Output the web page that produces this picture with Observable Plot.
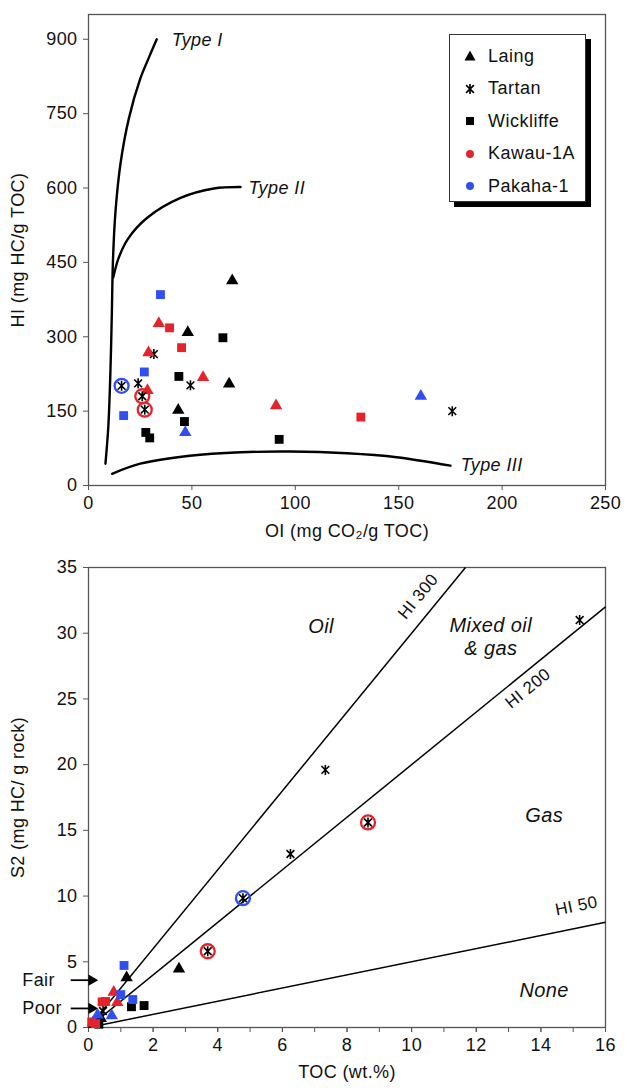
<!DOCTYPE html>
<html>
<head>
<meta charset="utf-8">
<script src="https://cdn.jsdelivr.net/npm/d3@7"></script>
<script src="https://cdn.jsdelivr.net/npm/@observablehq/plot@0.6"></script>
<style>
  body { margin: 0; background: #fff; font-family: 'Liberation Sans', Arial, sans-serif; }
  #wrap { width: 634px; }
  #top { position: relative; height: 550px; }
  #bot { position: relative; height: 538px; }
  svg text { letter-spacing: 0.4px; }
  #legend { position: absolute; left: 449px; top: 34px; width: 137px; height: 168px;
    border: 1px solid #333; background: #fff; box-shadow: 5px 5px 0 #000; box-sizing: border-box; }
  .lg { position: absolute; left: 12px; height: 22px; display: flex; align-items: center; font-size: 18px; color: #111; letter-spacing: 0.5px; }
  .lg svg { width: 16px; height: 16px; margin-right: 10px; }
</style>
</head>
<body>
<div id="wrap">
  <div id="top"></div>
  <div id="bot"></div>
</div>
<script>
// ---------- Data: pyrolysis (top) ----------
const wells = ["Outcrop", "Kawau-1A", "Pakaha-1"];
const formations = ["Laing", "Tartan", "Wickliffe"];
const legendLabels = ["Laing", "Tartan", "Wickliffe", "Kawau-1A", "Pakaha-1"];

const topOI   = [69.5, 48, 68, 43.4,  31.6, 49.3, 24, 175.9,  65, 43.7, 46.4, 27.7, 29.6, 92.2,
                 34, 29, 55.4, 90.7, 28.5,  39.2, 45, 131.7,  26, 27.2,
                 34.8, 27, 17,  46.8, 160.7,  16];
const topHI   = [413, 309, 205, 152,  265, 202, 206, 150,  298, 220, 129, 107, 96, 93,
                 327, 268, 218, 161, 192,  318, 278, 138,  180, 153,
                 385, 229, 141,  107, 180,  201];
const topFm   = ["Laing","Laing","Laing","Laing", "Tartan","Tartan","Tartan","Tartan",
                 "Wickliffe","Wickliffe","Wickliffe","Wickliffe","Wickliffe","Wickliffe",
                 "Laing","Laing","Laing","Laing","Laing", "Wickliffe","Wickliffe","Wickliffe", "Tartan","Tartan",
                 "Wickliffe","Wickliffe","Wickliffe", "Laing","Laing", "Tartan"];
const topWell = ["Outcrop","Outcrop","Outcrop","Outcrop","Outcrop","Outcrop","Outcrop","Outcrop",
                 "Outcrop","Outcrop","Outcrop","Outcrop","Outcrop","Outcrop",
                 "Kawau-1A","Kawau-1A","Kawau-1A","Kawau-1A","Kawau-1A","Kawau-1A","Kawau-1A","Kawau-1A","Kawau-1A","Kawau-1A",
                 "Pakaha-1","Pakaha-1","Pakaha-1","Pakaha-1","Pakaha-1","Pakaha-1"];

// Kerogen type curves (OI, HI)
const type1OI = [8.2, 9.6, 10.6, 11.3, 11.8, 13, 15.5, 19.5, 25, 29.5, 33];
const type1HI = [44, 120, 230, 350, 450, 550, 650, 740, 820, 866, 900];
const type2OI = [12, 14.5, 19, 28.4, 44.5, 60.6, 73.5];
const type2HI = [420, 458, 497, 540, 580, 599, 602];
const type3OI = [11.4, 25, 49, 73.5, 97.7, 125, 149, 175];
const type3HI = [23.5, 44, 60, 67, 68.5, 65, 57, 40];
const typeLabels = ["Type I", "Type II", "Type III"];
const typeLabelOI = [40.2, 77.4, 180];
const typeLabelHI = [898, 600, 40];

const oiTicks = [0, 50, 100, 150, 200, 250];
const hiTicks = [0, 150, 300, 450, 600, 750, 900];

// ---------- Data: S2 vs TOC (bottom) ----------
const botTOC  = [15.2, 7.33, 6.25, 0.45,  8.65, 3.69,  4.78,
                 2.8, 1.18, 0.38,  1.33, 1.72, 0.32,
                 1.1, 1.37, 1.0,  0.78, 0.89, 0.13,  0.53, 0.42, 0.1, 0.22,  0.28, 0.72];
const botS2   = [31.0, 19.6, 13.2, 1.25,  15.6, 5.8,  9.84,
                 4.46, 3.8, 0.7,  1.58, 1.67, 0.25,
                 4.72, 2.13, 2.5,  2.69, 1.9, 0.35,  1.98, 1.95, 0.42, 0.3,  0.95, 0.9];
const botFm   = ["Tartan","Tartan","Tartan","Tartan", "Tartan","Tartan", "Tartan",
                 "Laing","Laing","Laing", "Wickliffe","Wickliffe","Wickliffe",
                 "Wickliffe","Wickliffe","Wickliffe", "Laing","Laing","Laing",
                 "Wickliffe","Wickliffe","Wickliffe","Wickliffe", "Laing","Laing"];
const botWell = ["Outcrop","Outcrop","Outcrop","Outcrop", "Kawau-1A","Kawau-1A", "Pakaha-1",
                 "Outcrop","Outcrop","Outcrop", "Outcrop","Outcrop","Outcrop",
                 "Pakaha-1","Pakaha-1","Pakaha-1", "Kawau-1A","Kawau-1A","Kawau-1A",
                 "Kawau-1A","Kawau-1A","Kawau-1A","Kawau-1A", "Pakaha-1","Pakaha-1"];

const hiLines = [300, 200, 50];
const hiLineLabels = ["HI 300", "HI 200", "HI 50"];
const hiLabelTOC = [10.2, 13.6, 15.1];
const hiLabelS2  = [32.8, 25.8, 9.25];
const zoneLabels = ["Oil", "Mixed oil", "& gas", "Gas", "None"];
const zoneTOC = [7.2, 12.45, 12.45, 14.1, 14.1];
const zoneS2  = [30.5, 30.6, 28.8, 16.1, 2.8];
const gradeLabels = ["Fair", "Poor"];
const gradeS2 = [3.6, 1.45];

const tocTicks = [0, 2, 4, 6, 8, 10, 12, 14, 16];
const tocMinorTicks = [0,1,2,3,4,5,6,7,8,9,10,11,12,13,14,15,16];
const s2Ticks = [0, 5, 10, 15, 20, 25, 30, 35];

// ---------- Styling ----------
const FONT = "'Liberation Sans', Arial, sans-serif";
const wellColor = {"Outcrop": "#000000", "Kawau-1A": "#e4232b", "Pakaha-1": "#2f4ff0"};

// "Ж"-like asterisk: vertical bar with an X
const starSymbol = {
  draw(context, size) {
    const r = Math.sqrt(size / Math.PI);
    const a = r * 0.78;
    context.moveTo(0, -r); context.lineTo(0, r);
    context.moveTo(-a, -a); context.lineTo(a, a);
    context.moveTo(-a, a); context.lineTo(a, -a);
  }
};

function rowsOf(xs, ys, fms, ws) {
  return xs.map((x, i) => ({x, y: ys[i], fm: fms[i], well: ws[i]}));
}

function sampleMarks(rows) {
  const marks = [];
  for (const w of wells) {
    const c = wellColor[w];
    const tri = rows.filter(d => d.well === w && d.fm === "Laing");
    const sq = rows.filter(d => d.well === w && d.fm === "Wickliffe");
    const st = rows.filter(d => d.well === w && d.fm === "Tartan");
    marks.push(Plot.dot(sq, {x: "x", y: "y", symbol: "square", r: 5, fill: c}));
    marks.push(Plot.dot(tri, {x: "x", y: "y", symbol: "triangle", r: 4.6, fill: c}));
    if (w !== "Outcrop") {
      marks.push(Plot.dot(st, {x: "x", y: "y", symbol: "circle", r: 7, fill: "none", stroke: c, strokeWidth: 2.3}));
    }
    marks.push(Plot.dot(st, {x: "x", y: "y", symbol: starSymbol, r: 5, fill: "none", stroke: "#000", strokeWidth: 1.6}));
  }
  return marks;
}

// ---------- Top chart ----------
const topRows = rowsOf(topOI, topHI, topFm, topWell);
const curve = (xs, ys) => xs.map((x, i) => ({x, y: ys[i]}));
const topPlot = Plot.plot({
  width: 634, height: 550,
  marginLeft: 88, marginRight: 29, marginTop: 14, marginBottom: 65,
  style: {fontFamily: FONT, fontSize: "18px", color: "#111", background: "#fff"},
  x: {domain: [0, 250], axis: null},
  y: {domain: [0, 950], axis: null},
  marks: [
    Plot.frame({stroke: "#555", strokeWidth: 1.3}),
    Plot.axisX({ticks: oiTicks, tickSize: 5, tickPadding: 6, label: null, fontSize: 18, stroke: "#555"}),
    Plot.axisY({ticks: hiTicks, tickSize: 5, tickPadding: 6, label: null, fontSize: 18, stroke: "#555"}),
    Plot.text(["OI (mg CO\u2082/g TOC)"], {frameAnchor: "bottom", dy: 51, fontSize: 18, fill: "#111"}),
    Plot.text(["HI (mg HC/g TOC)"], {frameAnchor: "left", textAnchor: "middle", dx: -70, rotate: -90, fontSize: 18, fill: "#111"}),
    Plot.line(curve(type1OI, type1HI), {x: "x", y: "y", curve: "catmull-rom", stroke: "#000", strokeWidth: 2.4}),
    Plot.line(curve(type2OI, type2HI), {x: "x", y: "y", curve: "catmull-rom", stroke: "#000", strokeWidth: 2.4}),
    Plot.line(curve(type3OI, type3HI), {x: "x", y: "y", curve: "catmull-rom", stroke: "#000", strokeWidth: 2.4}),
    Plot.text(typeLabels, {x: (d, i) => typeLabelOI[i], y: (d, i) => typeLabelHI[i], text: d => d,
      textAnchor: "start", fontStyle: "italic", fontSize: 18, fill: "#111"}),
    ...sampleMarks(topRows)
  ]
});
document.getElementById("top").appendChild(topPlot);

// Legend
const legend = document.createElement("div");
legend.id = "legend";
const legendSvg = {
  "Laing": '<svg viewBox="-8 -8 16 16"><path d="M0,-5.5L5.5,4.5L-5.5,4.5Z" fill="#000"/></svg>',
  "Tartan": '<svg viewBox="-8 -8 16 16"><path d="M0,-5V5M-3.9,-3.9L3.9,3.9M-3.9,3.9L3.9,-3.9" stroke="#000" stroke-width="1.7" fill="none"/></svg>',
  "Wickliffe": '<svg viewBox="-8 -8 16 16"><rect x="-4" y="-4" width="8" height="8" fill="#000"/></svg>',
  "Kawau-1A": '<svg viewBox="-8 -8 16 16"><circle r="4" fill="' + wellColor["Kawau-1A"] + '"/></svg>',
  "Pakaha-1": '<svg viewBox="-8 -8 16 16"><circle r="4" fill="' + wellColor["Pakaha-1"] + '"/></svg>'
};
legendLabels.forEach((name, i) => {
  const row = document.createElement("div");
  row.className = "lg";
  row.style.top = (10 + i * 32.5) + "px";
  row.innerHTML = legendSvg[name] + "<span>" + name + "</span>";
  legend.appendChild(row);
});
document.getElementById("top").appendChild(legend);

// ---------- Bottom chart ----------
const botRows = rowsOf(botTOC, botS2, botFm, botWell);
const lineRows = hiLines.map(hi => {
  const xEnd = Math.min(16, 35 / (hi / 100));
  return {x1: 0, y1: 0, x2: xEnd, y2: xEnd * hi / 100, hi};
});
// angle of each HI line in pixel space (x: 517px / 16, y: 460px / 35)
const pxPerX = 517 / 16, pxPerY = 460 / 35;
const hiAngles = hiLines.map(hi => -Math.atan((hi / 100) * pxPerY / pxPerX) * 180 / Math.PI);

const botPlot = Plot.plot({
  width: 634, height: 538,
  marginLeft: 88, marginRight: 29, marginTop: 17, marginBottom: 61,
  style: {fontFamily: FONT, fontSize: "18px", color: "#111", background: "#fff"},
  x: {domain: [0, 16], axis: null},
  y: {domain: [0, 35], axis: null},
  marks: [
    Plot.frame({stroke: "#555", strokeWidth: 1.3}),
    Plot.axisX({ticks: tocMinorTicks, tickSize: 5, tickFormat: () => "", label: null, stroke: "#555"}),
    Plot.axisX({ticks: tocTicks, tickSize: 5, tickPadding: 6, label: null, fontSize: 18, stroke: "#555"}),
    Plot.axisY({ticks: s2Ticks, tickSize: 5, tickPadding: 6, label: null, fontSize: 18, stroke: "#555"}),
    Plot.text(["TOC (wt.%)"], {frameAnchor: "bottom", dy: 50, fontSize: 18, fill: "#111"}),
    Plot.text(["S2 (mg HC/ g rock)"], {frameAnchor: "left", textAnchor: "middle", dx: -70, rotate: -90, fontSize: 18, fill: "#111"}),
    Plot.link(lineRows, {x1: "x1", y1: "y1", x2: "x2", y2: "y2", stroke: "#000", strokeWidth: 1.5}),
    ...hiLineLabels.map((t, i) => Plot.text([t], {x: [hiLabelTOC[i]], y: [hiLabelS2[i]], text: d => d,
      rotate: hiAngles[i], fontSize: 17, fill: "#111"})),
    Plot.text(zoneLabels, {x: (d, i) => zoneTOC[i], y: (d, i) => zoneS2[i], text: d => d,
      fontStyle: "italic", fontSize: 20, fill: "#111"}),
    Plot.text(gradeLabels, {x: -2.05, y: (d, i) => gradeS2[i], text: d => d, textAnchor: "start", fontSize: 18, fill: "#111"}),
    Plot.link(gradeS2, {x1: -0.55, x2: 0.05, y1: d => d, y2: d => d, stroke: "#000", strokeWidth: 1.8}),
    Plot.dot(gradeS2, {x: 0.1, y: d => d, symbol: "triangle", rotate: 90, r: 4.2, fill: "#000"}),
    ...sampleMarks(botRows)
  ]
});
document.getElementById("bot").appendChild(botPlot);
</script>
</body>
</html>
